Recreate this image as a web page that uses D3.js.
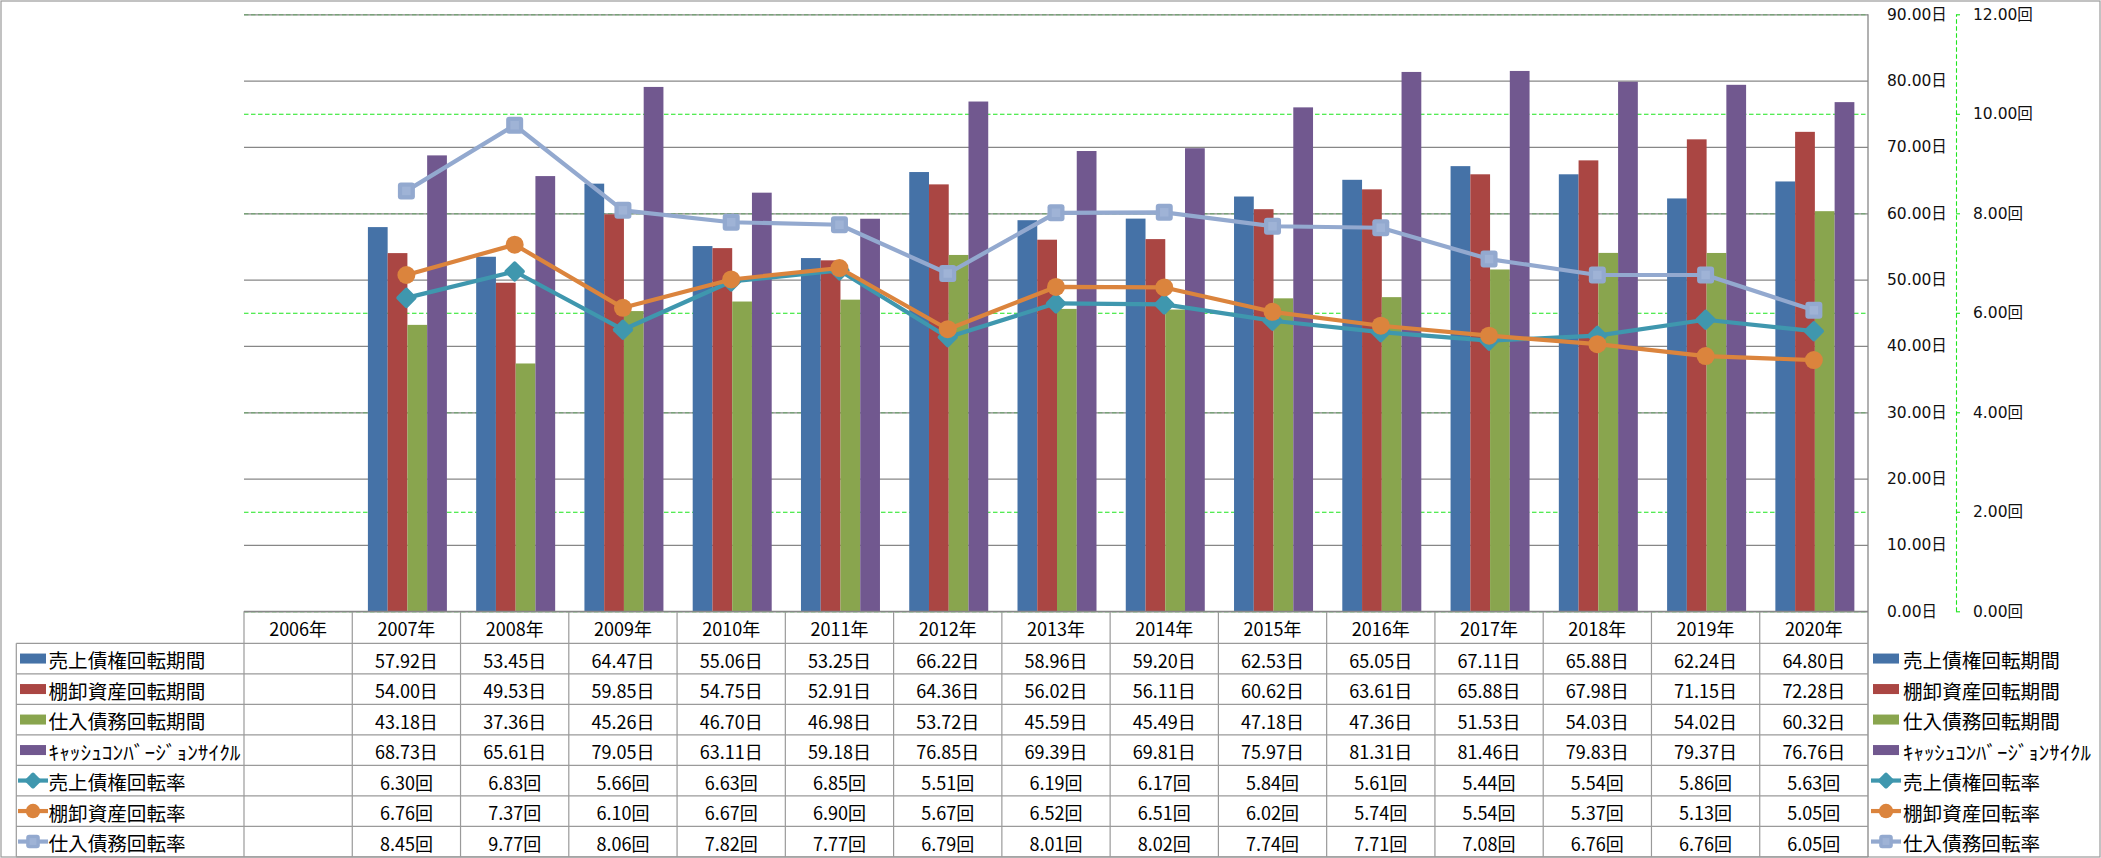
<!DOCTYPE html>
<html>
<head>
<meta charset="utf-8">
<script src="https://cdn.jsdelivr.net/npm/d3@7/dist/d3.min.js"></script>
<style>
  html, body { margin: 0; padding: 0; background: #fff; }
  svg { display: block; }
</style>
</head>
<body>
<svg id="chart" width="2101" height="858"></svg>
<script>
// ---------------- DATA ----------------
const years = ["2006年","2007年","2008年","2009年","2010年","2011年","2012年","2013年","2014年","2015年","2016年","2017年","2018年","2019年","2020年"];
const salesDays   = [null, 57.92, 53.45, 64.47, 55.06, 53.25, 66.22, 58.96, 59.20, 62.53, 65.05, 67.11, 65.88, 62.24, 64.80];
const invDays     = [null, 54.00, 49.53, 59.85, 54.75, 52.91, 64.36, 56.02, 56.11, 60.62, 63.61, 65.88, 67.98, 71.15, 72.28];
const payDays     = [null, 43.18, 37.36, 45.26, 46.70, 46.98, 53.72, 45.59, 45.49, 47.18, 47.36, 51.53, 54.03, 54.02, 60.32];
const cccDays     = [null, 68.73, 65.61, 79.05, 63.11, 59.18, 76.85, 69.39, 69.81, 75.97, 81.31, 81.46, 79.83, 79.37, 76.76];
const salesTurn   = [null, 6.30, 6.83, 5.66, 6.63, 6.85, 5.51, 6.19, 6.17, 5.84, 5.61, 5.44, 5.54, 5.86, 5.63];
const invTurn     = [null, 6.76, 7.37, 6.10, 6.67, 6.90, 5.67, 6.52, 6.51, 6.02, 5.74, 5.54, 5.37, 5.13, 5.05];
const payTurn     = [null, 8.45, 9.77, 8.06, 7.82, 7.77, 6.79, 8.01, 8.02, 7.74, 7.71, 7.08, 6.76, 6.76, 6.05];
const leftTicks   = [0,10,20,30,40,50,60,70,80,90];
const rightTicks  = [0,2,4,6,8,10,12];

const barSeries = [
  { name: "売上債権回転期間", values: salesDays, color: "#4572A7" },
  { name: "棚卸資産回転期間", values: invDays,   color: "#AA4643" },
  { name: "仕入債務回転期間", values: payDays,   color: "#89A54E" },
  { name: "ｷｬｯｼｭｺﾝﾊﾞｰｼﾞｮﾝｻｲｸﾙ", values: cccDays, color: "#71588F" }
];
const lineSeries = [
  { name: "売上債権回転率", values: salesTurn, color: "#3F97AE", marker: "diamond" },
  { name: "棚卸資産回転率", values: invTurn,   color: "#DB843D", marker: "circle" },
  { name: "仕入債務回転率", values: payTurn,   color: "#93A9CF", marker: "square" }
];

// ---------------- LAYOUT ----------------
const svg = d3.select("#chart");
const plotL = 244, plotR = 1868, plotT = 14.3, plotB = 611.3;
const tableLeft = 16.3, rowTop = 643.3, rowH = 30.5;
const gridColor = "#878787", tableColor = "#9a9a9a";
const CJK = "'Noto Sans CJK JP', 'Noto Sans', sans-serif";

const x0 = d3.scaleBand().domain(years).range([plotL, plotR]).padding(0);
const groupW = 79;
const x1 = d3.scaleBand().domain(barSeries.map(s => s.name)).range([0, groupW]).padding(0);
const yL = d3.scaleLinear().domain([0, 90]).range([plotB, plotT]);
const yR = d3.scaleLinear().domain([0, 12]).range([plotB, plotT]);

// outer border
svg.append("rect").attr("x", 1).attr("y", 1).attr("width", 2099).attr("height", 856)
  .attr("fill", "none").attr("stroke", tableColor).attr("stroke-width", 1.2);

// secondary gridlines (green dashed)
const gR = svg.append("g").attr("transform", `translate(${plotL},0)`)
  .call(d3.axisLeft(yR).tickValues(rightTicks).tickSize(-(plotR - plotL)).tickFormat(""));
gR.select(".domain").remove();
gR.selectAll(".tick line").attr("stroke", "#1EE51E").attr("stroke-width", 1.1).attr("stroke-dasharray", "4.5,2.5");

// primary gridlines (gray)
const gL = svg.append("g").attr("transform", `translate(${plotL},0)`)
  .call(d3.axisLeft(yL).tickValues(leftTicks).tickSize(-(plotR - plotL)).tickFormat(""));
gL.select(".domain").remove();
gL.selectAll(".tick line").attr("stroke", gridColor).attr("stroke-width", 1.3);

// bars
barSeries.forEach(s => {
  svg.append("g").selectAll("rect")
    .data(years.map((y, i) => ({ y, v: s.values[i] })).filter(d => d.v != null))
    .join("rect")
    .attr("x", d => x0(d.y) + (x0.bandwidth() - groupW) / 2 + 1 + x1(s.name))
    .attr("y", d => yL(d.v))
    .attr("width", x1.bandwidth())
    .attr("height", d => yL(0) - yL(d.v))
    .attr("fill", s.color);
});

// plot right border
svg.append("line").attr("x1", plotR).attr("x2", plotR).attr("y1", plotT).attr("y2", 857)
  .attr("stroke", gridColor).attr("stroke-width", 1.3);

// marker helper
function drawMarker(g, type, cx, cy, color, scale) {
  const k = scale || 1;
  if (type === "diamond") {
    const s = 15.5 * k;
    g.append("rect").attr("x", -s / 2).attr("y", -s / 2).attr("width", s).attr("height", s)
      .attr("rx", 2).attr("fill", color)
      .attr("transform", `translate(${cx},${cy}) rotate(45)`);
  } else if (type === "circle") {
    g.append("circle").attr("cx", cx).attr("cy", cy).attr("r", 9 * k).attr("fill", color);
  } else {
    const s = 17 * k;
    g.append("rect").attr("x", cx - s / 2).attr("y", cy - s / 2).attr("width", s).attr("height", s)
      .attr("rx", 3).attr("fill", color);
    g.append("rect").attr("x", cx - s / 4).attr("y", cy - s / 4).attr("width", s / 2).attr("height", s / 2)
      .attr("fill", "#9fb3d6");
  }
}

// lines
lineSeries.forEach(s => {
  const pts = years.map((y, i) => ({ y, v: s.values[i] })).filter(d => d.v != null);
  const line = d3.line().x(d => x0(d.y) + x0.bandwidth() / 2).y(d => yR(d.v));
  svg.append("path").datum(pts).attr("d", line).attr("fill", "none")
    .attr("stroke", s.color).attr("stroke-width", 4.2).attr("stroke-linejoin", "round");
  const g = svg.append("g");
  pts.forEach(d => drawMarker(g, s.marker, x0(d.y) + x0.bandwidth() / 2, yR(d.v), s.color));
});

// primary axis labels (on right of plot)
const axL = svg.append("g").attr("transform", `translate(${plotR},0)`)
  .call(d3.axisRight(yL).tickValues(leftTicks).tickSize(0).tickPadding(19)
    .tickFormat(d => d.toFixed(2) + "日"));
axL.select(".domain").remove();
axL.selectAll("text").attr("font-family", "'DejaVu Sans', " + CJK).attr("font-size", 15.5)
  .attr("fill", "#111").attr("text-anchor", "start");

// secondary axis
const axRx = 1956;
const axR = svg.append("g").attr("transform", `translate(${axRx},0)`)
  .call(d3.axisRight(yR).tickValues(rightTicks).tickSize(4).tickSizeOuter(0).tickPadding(13)
    .tickFormat(d => d.toFixed(2) + "回"));
axR.select(".domain").attr("stroke", "#1EE51E").attr("stroke-dasharray", "4.5,2.5").attr("stroke-width", 1.1);
axR.selectAll(".tick line").attr("stroke", "#1EE51E").attr("stroke-width", 1.1);
axR.selectAll("text").attr("font-family", "'DejaVu Sans', " + CJK).attr("font-size", 15.5)
  .attr("fill", "#111").attr("text-anchor", "start");

// ---------------- DATA TABLE ----------------
const tbl = svg.append("g");
const allRows = barSeries.map(s => ({ ...s, kind: "bar", unit: "日" }))
  .concat(lineSeries.map(s => ({ ...s, kind: "line", unit: "回" })));
const tableBottom = rowTop + rowH * allRows.length;

// header row vertical lines + year labels
years.forEach((y, i) => {
  const xl = x0(y);
  tbl.append("line").attr("x1", xl).attr("x2", xl).attr("y1", plotB).attr("y2", tableBottom)
    .attr("stroke", tableColor).attr("stroke-width", 1.2);
  tbl.append("text").attr("x", xl + x0.bandwidth() / 2).attr("y", (plotB + rowTop) / 2 + 1)
    .attr("text-anchor", "middle").attr("dominant-baseline", "central")
    .attr("font-family", CJK).attr("font-size", 18).attr("fill", "#000").text(y);
});
// plot bottom / header top line
tbl.append("line").attr("x1", plotL).attr("x2", plotR).attr("y1", plotB).attr("y2", plotB)
  .attr("stroke", gridColor).attr("stroke-width", 1.3);
// row horizontal lines
for (let r = 0; r <= allRows.length; r++) {
  const yy = rowTop + r * rowH;
  tbl.append("line").attr("x1", tableLeft).attr("x2", plotR).attr("y1", yy).attr("y2", yy)
    .attr("stroke", tableColor).attr("stroke-width", 1.2);
}
// left border of label column
tbl.append("line").attr("x1", tableLeft).attr("x2", tableLeft).attr("y1", rowTop).attr("y2", tableBottom)
  .attr("stroke", tableColor).attr("stroke-width", 1.2);

function legendKey(g, s, xs, cy) {
  if (s.kind === "bar") {
    g.append("rect").attr("x", xs + 2).attr("y", cy - 5).attr("width", 26).attr("height", 10).attr("fill", s.color);
  } else {
    g.append("line").attr("x1", xs).attr("x2", xs + 30).attr("y1", cy).attr("y2", cy)
      .attr("stroke", s.color).attr("stroke-width", 4.2);
    drawMarker(g, s.marker, xs + 15, cy, s.color, 0.8);
  }
}

function legendLabel(g, s, x, cy, fitW) {
  const isCCC = s.name.startsWith("ｷ");
  const t = g.append("text").attr("x", x).attr("y", cy + 1).attr("dominant-baseline", "central")
    .attr("font-family", CJK).attr("font-size", 19.6).attr("fill", "#000")
    .text(s.name);
  if (isCCC) t.attr("textLength", fitW).attr("lengthAdjust", "spacingAndGlyphs");
}

allRows.forEach((s, r) => {
  const cy = rowTop + r * rowH + rowH / 2;
  // left legend label
  legendKey(tbl, s, 18, cy);
  legendLabel(tbl, s, 48.5, cy, 192);
  // values
  years.forEach((y, i) => {
    const v = s.values[i];
    if (v == null) return;
    tbl.append("text").attr("x", x0(y) + x0.bandwidth() / 2).attr("y", cy + 1)
      .attr("text-anchor", "middle").attr("dominant-baseline", "central")
      .attr("font-family", CJK).attr("font-size", 18).attr("fill", "#000")
      .text(v.toFixed(2) + s.unit);
  });
  // right legend
  legendKey(tbl, s, 1871, cy);
  legendLabel(tbl, s, 1903, cy, 188);
});
</script>
</body>
</html>
